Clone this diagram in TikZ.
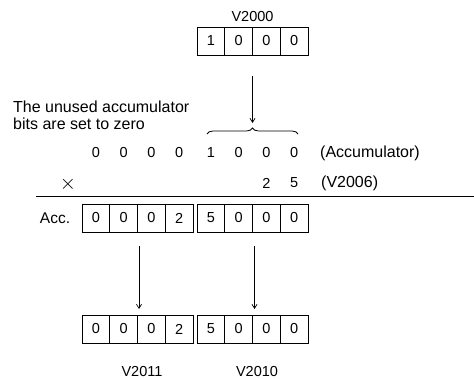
\documentclass[tikz,border=0pt]{standalone}
\usepackage{fontspec}
\setmainfont{Liberation Sans}
\usetikzlibrary{arrows.meta,decorations.pathreplacing}
\begin{document}
\begin{tikzpicture}[x=1pt,y=-1pt,
  cell/.style={draw,line width=0.8pt,minimum width=27.75pt,minimum height=28pt,inner sep=0pt,outer sep=0pt,font=\fontsize{14.5}{17}\selectfont},
  txt/.style={inner sep=0pt,font=\fontsize{14.5}{17}\selectfont},
  bigtxt/.style={inner sep=0pt,font=\fontsize{16}{19}\selectfont},
  arr/.style={line width=0.7pt,-{Straight Barb[length=4pt,width=5pt]}},
  thin line/.style={line width=0.8pt}]
\useasboundingbox (0,0) rectangle (474,379);
% top register
\node[txt] (v2000) at (252.5,17) {V2000};
\foreach \d [count=\i] in {1,0,0,0}
  \node[cell] (t\i) at ({197+27.75*(\i-0.5)},41) {\d};
% arrow to brace
\coordinate (a1s) at (252.5,76);
\coordinate (a1e) at (252.5,123);
\draw[arr] (a1s) -- (a1e);
\coordinate (brl) at (207,134);
\coordinate (brr) at (298,134);
\draw[thin line,decorate,decoration={brace,amplitude=6pt}] (brl) -- (brr);
% note
\node[bigtxt,anchor=west] (note1) at (13,107) {The unused accumulator};
\node[bigtxt,anchor=west] (note2) at (13,124) {bits are set to zero};
% accumulator row digits
\foreach \d [count=\i] in {0,0,0,0}
  \node[txt] (d\i) at ({82+27.75*(\i-0.5)},153) {\d};
\foreach \d [count=\i] in {1,0,0,0}
  \node[txt] (e\i) at ({197+27.75*(\i-0.5)},153) {\d};
\node[bigtxt,anchor=west] (acclab) at (320,153) {(Accumulator)};
% multiplier
\node[inner sep=0pt,font=\fontsize{20}{20}\selectfont] (times) at (68,184) {$\times$};
\node[txt] (m2) at ({197+27.75*2.5},183) {2};
\node[txt] (m5) at ({197+27.75*3.5},183) {5};
\node[bigtxt,anchor=west] (v2006) at (321,183) {(V2006)};
\coordinate (rl) at (36,196);
\coordinate (rr) at (474,196);
\draw[thin line] (rl) -- (rr);
% result in accumulator
\node[inner sep=0pt,font=\fontsize{15.5}{18}\selectfont] (acc) at (55,218) {Acc.};
\foreach \d [count=\i] in {0,0,0,2}
  \node[cell] (p\i) at ({82+27.75*(\i-0.5)},218) {\d};
\foreach \d [count=\i] in {5,0,0,0}
  \node[cell] (q\i) at ({197+27.75*(\i-0.5)},218) {\d};
% arrows down
\coordinate (b1s) at (139,246);
\coordinate (b1e) at (139,309);
\coordinate (b2s) at (254.5,246);
\coordinate (b2e) at (254.5,309);
\draw[arr] (b1s) -- (b1e);
\draw[arr] (b2s) -- (b2e);
% destination registers
\foreach \d [count=\i] in {0,0,0,2}
  \node[cell] (r\i) at ({82+27.75*(\i-0.5)},329) {\d};
\foreach \d [count=\i] in {5,0,0,0}
  \node[cell] (s\i) at ({197+27.75*(\i-0.5)},329) {\d};
\node[txt] (v2011) at (142,372) {V2011};
\node[txt] (v2010) at (257,372) {V2010};
\end{tikzpicture}
\end{document}
